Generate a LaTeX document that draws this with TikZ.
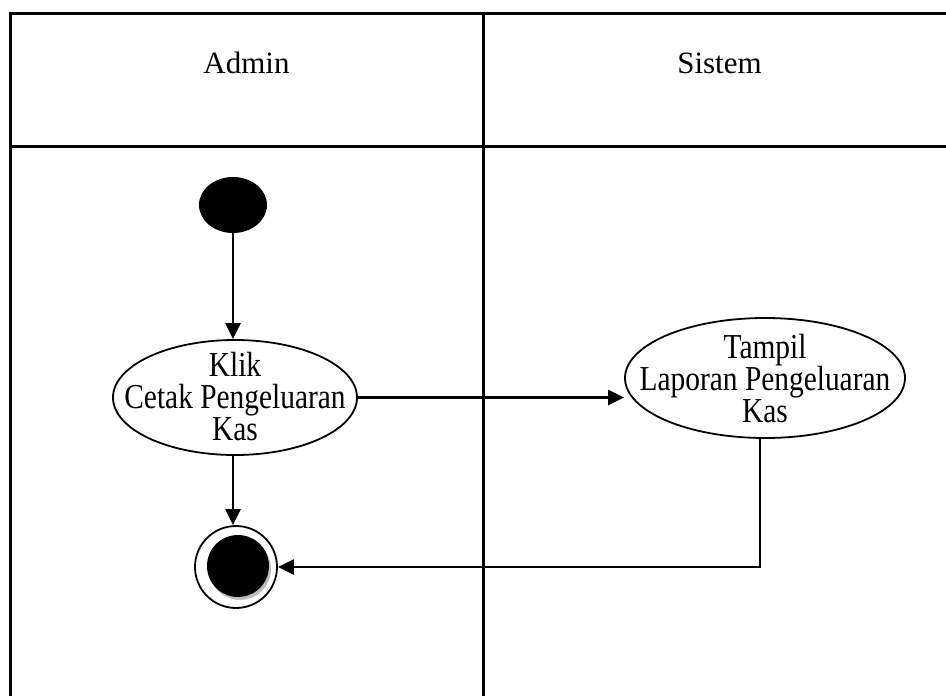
\documentclass[tikz,border=0pt]{standalone}
\usepackage{fontspec}
\setmainfont{Liberation Serif}
\newfontfamily\actfont[FakeStretch=0.84]{Liberation Serif}
\usetikzlibrary{shapes.geometric,arrows.meta}

\begin{document}
\begin{tikzpicture}[x=1pt,y=-1pt,
  lane/.style={line width=3pt},
  header/.style={font=\fontsize{31}{36}\selectfont, inner sep=0pt},
  actshape/.style={ellipse, draw, line width=1.8pt, inner sep=0pt},
  acttext/.style={align=center, inner sep=0pt, font=\actfont\fontsize{35}{32}\selectfont},
  flow/.style={line width=2.3pt, -{Triangle[length=16pt,width=15pt]}}]
\useasboundingbox (0,0) rectangle (946,696);

% swimlane frame
\draw[lane] (10,696) -- (10,13) -- (946,13);
\draw[lane] (10,146) -- (946,146);
\draw[lane] (483,13) -- (483,696);

% lane headers
\node[header, anchor=base] (admin)  at (246.5,73) {Admin};
\node[header, anchor=base] (sistem) at (719.5,73) {Sistem};

% initial state
\node[ellipse, fill=black, minimum width=68pt, minimum height=56pt, inner sep=0pt] (start) at (233,205) {};

% actions
\node[actshape, minimum width=244pt, minimum height=115pt] (klik) at (235,397.5) {};
\node[acttext] (kliktext) at ([yshift=1pt]klik.center) {Klik\\Cetak Pengeluaran\\Kas};

\node[actshape, minimum width=280pt, minimum height=120pt] (tampil) at (765,378) {};
\node[acttext] (tampiltext) at ([yshift=-1pt]tampil.center) {Tampil\\Laporan Pengeluaran\\Kas};

% final state
\node[circle, draw, line width=1.8pt, minimum size=82pt, inner sep=0pt] (end) at (236,567) {};
\node[circle, fill=black!25, minimum size=62pt, inner sep=0pt] (endshadow) at (240,569) {};
\node[circle, fill=black, minimum size=62pt, inner sep=0pt] (enddot) at (238,566) {};

% control flow
\draw[flow] (start) -- (start |- klik.north);
\draw[flow] (klik.east) -- (klik.east -| tampil.west);
\draw[flow] (start |- klik.south) -- (start |- end.north);
\draw[flow] ([xshift=-5pt]tampil.south) -- ([xshift=-5pt]tampil.south |- end) -- (end.east);
\end{tikzpicture}
\end{document}
